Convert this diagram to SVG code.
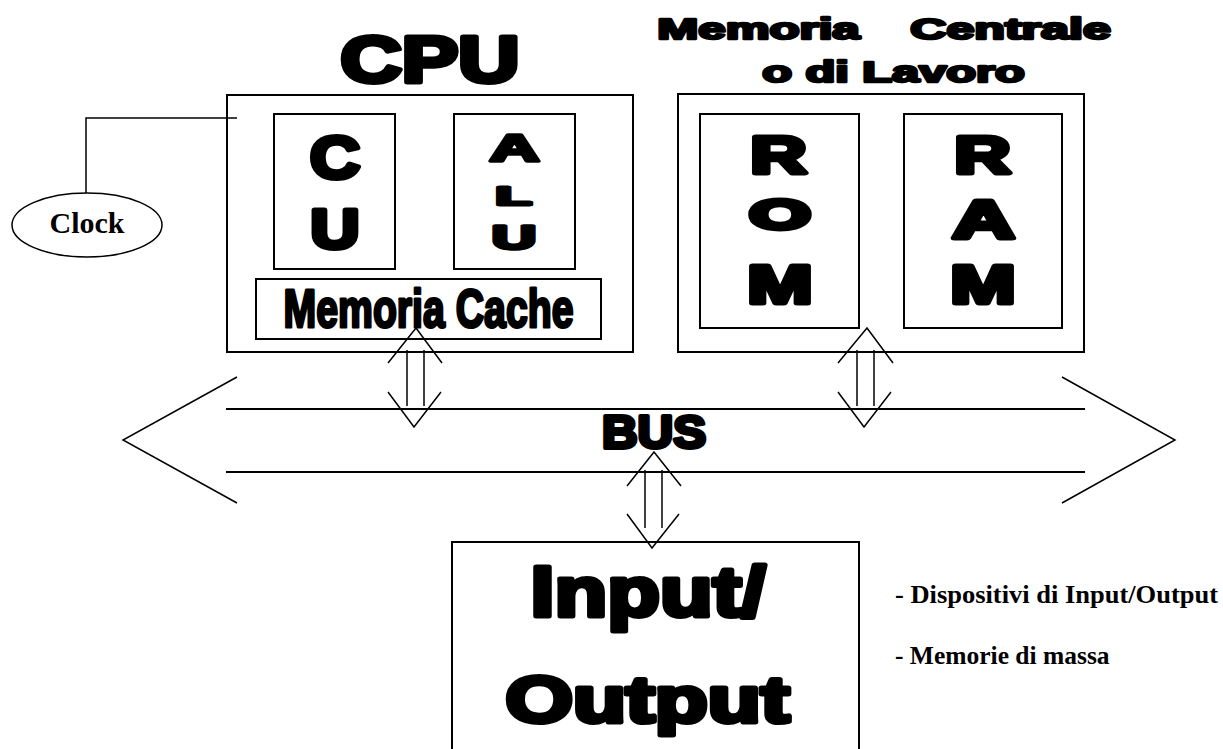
<svg xmlns="http://www.w3.org/2000/svg" width="1223" height="749" viewBox="0 0 1223 749">
<style>
.box{fill:none;stroke:#000;stroke-width:2}
.ln{fill:none;stroke:#000;stroke-width:1.5}
.hv{font-family:"Liberation Sans",Arial,sans-serif;font-weight:bold;fill:#000;stroke:#000;stroke-linejoin:round;text-anchor:middle}
.s25{stroke-width:2.5}.s3{stroke-width:3}.s35{stroke-width:3.5}.s4{stroke-width:4}.s5{stroke-width:5}
.tm{font-family:"Liberation Serif","Times New Roman",serif;font-weight:bold;fill:#000}
</style>
<rect width="1223" height="749" fill="#fff"/>
<g id="connectors">
<polyline class="ln" points="86,193 86,118 237,118"/>
<g id="bus">
<line class="box" x1="226" y1="409" x2="1085" y2="409"/>
<line class="box" x1="226" y1="472" x2="1085" y2="472"/>
<polyline class="ln" points="237,377 123,440 237,503"/>
<polyline class="ln" points="1062,377 1175,440 1062,503"/>
</g>
<g id="arrow-cpu">
<polyline class="ln" points="388,363 416,328 442,363"/>
<line class="ln" x1="407" y1="350" x2="407" y2="406"/>
<line class="ln" x1="424" y1="350" x2="424" y2="406"/>
<polyline class="ln" points="388,392 414,427 441,392"/>
</g>
<g id="arrow-mem">
<polyline class="ln" points="838,363 867,328 893,363"/>
<line class="ln" x1="857" y1="350" x2="857" y2="406"/>
<line class="ln" x1="874" y1="350" x2="874" y2="406"/>
<polyline class="ln" points="838,392 864,427 891,392"/>
</g>
<g id="arrow-io">
<polyline class="ln" points="627,486 654,452 681,486"/>
<line class="ln" x1="645" y1="470" x2="645" y2="528"/>
<line class="ln" x1="662" y1="470" x2="662" y2="528"/>
<polyline class="ln" points="627,514 652,548 679,514"/>
</g>
</g>
<g id="clock">
<ellipse cx="87" cy="225" rx="75" ry="32" class="ln"/>
<text class="tm" x="87" y="233" font-size="30" text-anchor="middle">Clock</text>
</g>
<g id="cpu">
<text class="hv s5" x="430" y="82" font-size="64" textLength="179" lengthAdjust="spacingAndGlyphs">CPU</text>
<rect class="box" x="227" y="95" width="406" height="257"/>
</g>
<g id="cu">
<rect class="box" x="274" y="114" width="121" height="155"/>
<text class="hv s5" x="335" y="178" font-size="59" textLength="50" lengthAdjust="spacingAndGlyphs">C</text>
<text class="hv s5" x="335" y="248" font-size="56" textLength="49" lengthAdjust="spacingAndGlyphs">U</text>
</g>
<g id="alu">
<rect class="box" x="454" y="114" width="121" height="155"/>
<text class="hv s35" x="514.5" y="160.5" font-size="37" textLength="49.5" lengthAdjust="spacingAndGlyphs">A</text>
<text class="hv s3" x="513.5" y="204.5" font-size="25" textLength="36" lengthAdjust="spacingAndGlyphs">L</text>
<text class="hv s35" x="514" y="248.5" font-size="34" textLength="44.5" lengthAdjust="spacingAndGlyphs">U</text>
</g>
<g id="cache">
<rect class="box" x="256" y="279" width="345" height="60"/>
<text class="hv s3" x="428.5" y="326.5" font-size="54.5" textLength="290" lengthAdjust="spacingAndGlyphs">Memoria Cache</text>
</g>
<g id="memoria">
<text class="hv s25" x="758.5" y="39" font-size="28.6" textLength="202.5" lengthAdjust="spacingAndGlyphs">Memoria</text>
<text class="hv s25" x="1010.5" y="39" font-size="28.6" textLength="200.5" lengthAdjust="spacingAndGlyphs">Centrale</text>
<text class="hv s25" x="893.5" y="82" font-size="28.6" textLength="262.5" lengthAdjust="spacingAndGlyphs">o di Lavoro</text>
<rect class="box" x="678" y="94" width="406" height="258"/>
</g>
<g id="rom">
<rect class="box" x="700" y="114" width="159" height="214"/>
<text class="hv s5" x="778.5" y="173" font-size="52" textLength="56" lengthAdjust="spacingAndGlyphs">R</text>
<text class="hv s5" x="780" y="229" font-size="43" textLength="61" lengthAdjust="spacingAndGlyphs">O</text>
<text class="hv s5" x="780" y="303" font-size="53" textLength="65" lengthAdjust="spacingAndGlyphs">M</text>
</g>
<g id="ram">
<rect class="box" x="904" y="114" width="158" height="214"/>
<text class="hv s5" x="982.5" y="173" font-size="52" textLength="56" lengthAdjust="spacingAndGlyphs">R</text>
<text class="hv s5" x="983.5" y="238" font-size="53" textLength="62" lengthAdjust="spacingAndGlyphs">A</text>
<text class="hv s5" x="983" y="303" font-size="53" textLength="65" lengthAdjust="spacingAndGlyphs">M</text>
</g>
<g id="bus-label">
<text class="hv s4" x="654" y="448" font-size="46" textLength="104" lengthAdjust="spacingAndGlyphs">BUS</text>
</g>
<g id="io">
<rect class="box" x="452" y="542" width="407" height="230"/>
<text class="hv s5" x="648" y="616" font-size="71" textLength="235" lengthAdjust="spacingAndGlyphs">Input/</text>
<text class="hv s5" x="647.5" y="722" font-size="65" textLength="284" lengthAdjust="spacingAndGlyphs">Output</text>
</g>
<g id="notes">
<text class="tm" x="895" y="603" font-size="25.5" textLength="323" lengthAdjust="spacingAndGlyphs">- Dispositivi di Input/Output</text>
<text class="tm" x="895" y="664" font-size="25.5">- Memorie di massa</text>
</g>
</svg>
